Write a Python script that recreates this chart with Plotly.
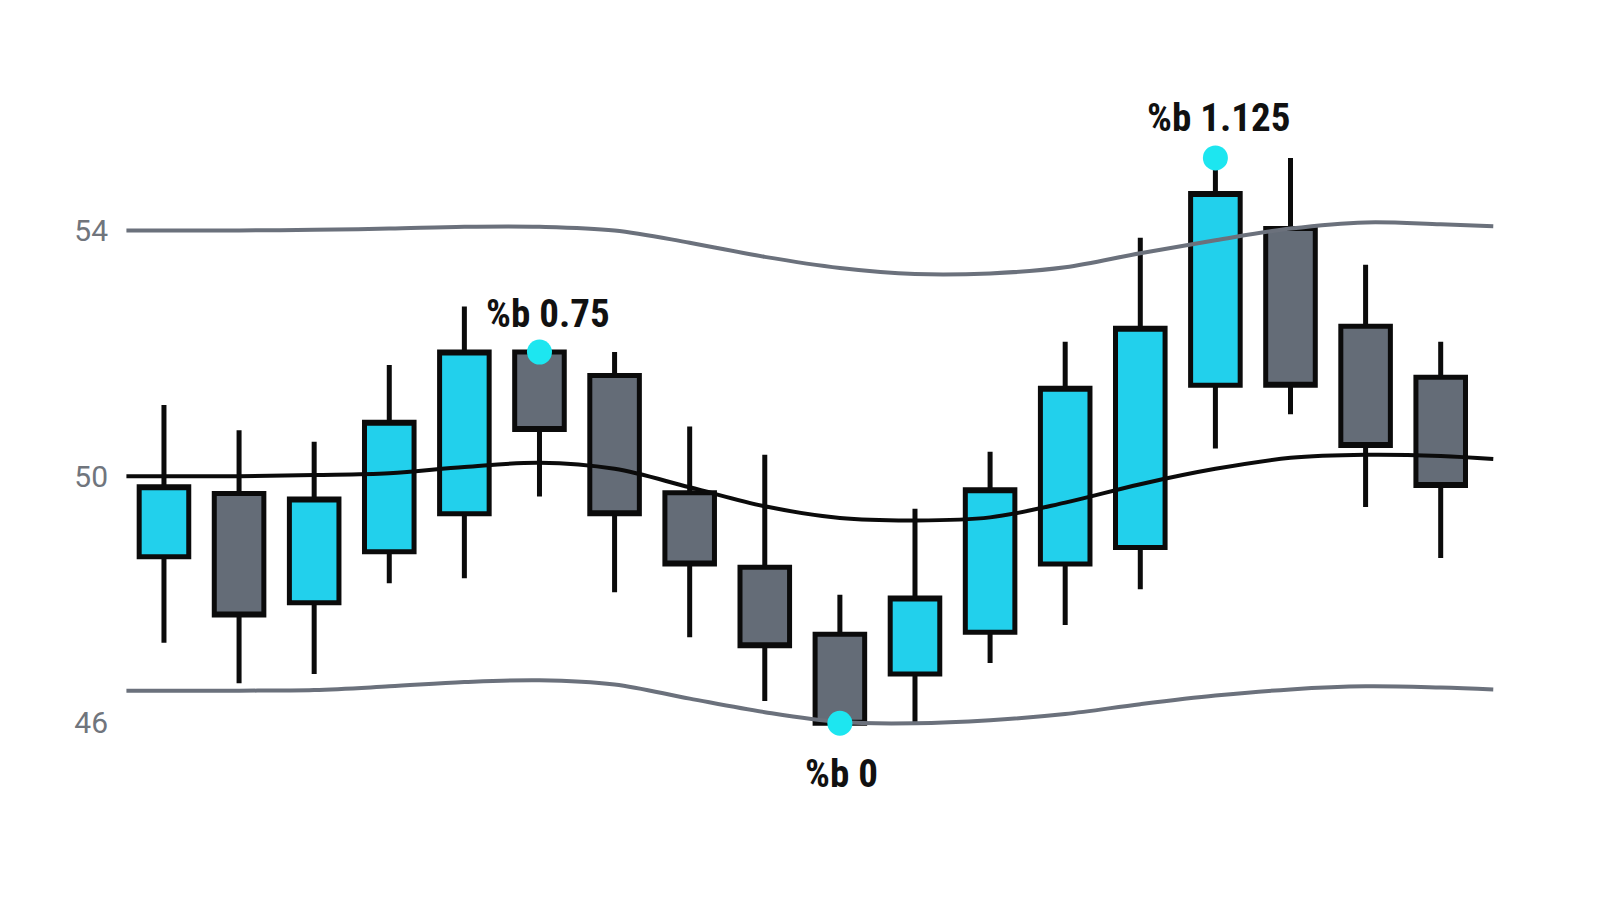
import plotly.graph_objects as go

# candle periods and OHLC values
periods = [1, 2, 3, 4, 5, 6, 7, 8, 9, 10, 11, 12, 13, 14, 15, 16, 17, 18]
opens = [48.69, 49.72, 47.94, 48.77, 49.39, 52.02, 51.64, 49.73, 48.52,
         47.43, 46.78, 47.46, 48.57, 48.84, 51.48, 54.03, 52.44, 51.61]
highs = [51.16, 50.75, 50.56, 51.81, 52.76, 52.02, 52.02, 50.81, 50.35,
         48.07, 49.47, 50.40, 52.19, 53.88, 55.18, 55.18, 53.44, 52.19]
lows = [47.29, 46.63, 46.78, 48.26, 48.34, 49.67, 48.11, 47.38, 46.34,
        45.98, 45.98, 46.96, 47.58, 48.16, 50.45, 51.01, 49.50, 48.67]
closes = [49.83, 47.74, 49.63, 50.88, 52.02, 50.76, 49.39, 48.57, 47.24,
          45.98, 48.02, 49.78, 51.43, 52.41, 54.60, 51.48, 50.50, 49.85]

# bollinger bands
band_x = [0.5, 1, 2, 3, 4, 5, 6, 7, 8, 9, 10, 11, 12, 13, 14, 15, 16, 17, 18, 18.7]
upper_band = [54.0, 54.0, 54.0, 54.01, 54.03, 54.06, 54.06, 54.0, 53.8, 53.57,
              53.39, 53.29, 53.3, 53.4, 53.63, 53.84, 54.03, 54.13, 54.1, 54.07]
middle_band = [50.0, 50.0, 50.0, 50.02, 50.05, 50.15, 50.22, 50.12, 49.82, 49.51,
               49.32, 49.28, 49.33, 49.57, 49.87, 50.12, 50.3, 50.35, 50.33, 50.28]
lower_band = [46.51, 46.51, 46.51, 46.52, 46.58, 46.65, 46.68, 46.61, 46.38, 46.16,
              46.0, 45.98, 46.03, 46.13, 46.29, 46.43, 46.53, 46.58, 46.56, 46.53]

# %b markers
pb_x = [6, 15, 10]
pb_y = [52.02, 55.18, 45.98]
pb_text = ["%b 0.75", "%b 1.125", "%b 0"]

y_ticks = [46, 50, 54]

CYAN = "#22D0EC"
GREY = "#646C77"
BAND = "#6B717C"
INK = "#0B0B0B"

fig = go.Figure()

fig.add_trace(go.Candlestick(
    x=periods, open=opens, high=highs, low=lows, close=closes,
    increasing=dict(fillcolor=CYAN, line=dict(color=INK, width=5)),
    decreasing=dict(fillcolor=GREY, line=dict(color=INK, width=5)),
    whiskerwidth=0,
    showlegend=False,
))

for vals, color in [(upper_band, BAND), (lower_band, BAND), (middle_band, INK)]:
    fig.add_trace(go.Scatter(
        x=band_x, y=vals, mode="lines",
        line=dict(color=color, width=4, shape="spline", smoothing=1),
        showlegend=False, hoverinfo="skip",
    ))

fig.add_trace(go.Scatter(
    x=pb_x, y=pb_y, mode="markers",
    marker=dict(color="#1DE6F0", size=25),
    showlegend=False, cliponaxis=False,
))

shifts = [(9, 38), (3, 40), (2, -51)]
for x, y, txt, (dx, dy) in zip(pb_x, pb_y, pb_text, shifts):
    fig.add_annotation(
        x=x, y=y, text=txt, showarrow=False,
        xshift=dx, yshift=dy,
        font=dict(family="Liberation Sans Narrow, Roboto Condensed, Roboto",
                  size=39, color="#111111", weight="bold"),
    )

fig.update_layout(
    width=1600, height=914,
    margin=dict(l=107, r=40, t=0, b=0),
    paper_bgcolor="white", plot_bgcolor="white",
    boxgap=0.34, boxgroupgap=0,
    xaxis=dict(range=[0.348, 19.695], visible=False,
               rangeslider=dict(visible=False)),
    yaxis=dict(range=[42.745, 57.62], tickvals=y_ticks,
               showgrid=False, zeroline=False, showline=False, ticks="",
               ticklabelstandoff=6,
               tickfont=dict(family="Roboto", size=30, color="#70757D")),
)

fig.write_html("out.html")
